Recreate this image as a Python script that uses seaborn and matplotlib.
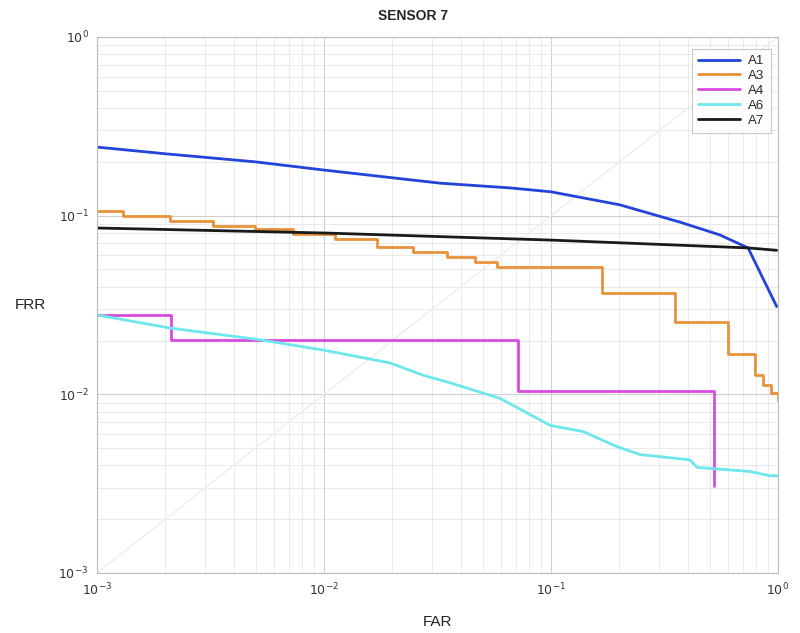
import numpy as np
import pandas as pd
import matplotlib
matplotlib.use("Agg")
import matplotlib.pyplot as plt
import seaborn as sns

# ---- data ----
a1_far = [0.001, 0.002, 0.005, 0.01, 0.0325, 0.066, 0.1, 0.201, 0.370, 0.555, 0.738, 0.987]
a1_frr = [0.242, 0.222, 0.200, 0.180, 0.152, 0.143, 0.136, 0.115, 0.092, 0.078, 0.066, 0.031]

a3_far = [0.001, 0.0013, 0.0021, 0.00324, 0.00497, 0.0073, 0.0112, 0.0171, 0.0247, 0.0348,
          0.0462, 0.0578, 0.168, 0.351, 0.603, 0.793, 0.859, 0.93, 1.0]
a3_frr = [0.106, 0.0996, 0.0938, 0.0879, 0.0843, 0.079, 0.0741, 0.0668, 0.0623, 0.0587,
          0.0551, 0.0516, 0.0369, 0.0254, 0.0168, 0.0128, 0.0113, 0.0102, 0.0093]

a4_far = [0.001, 0.00212, 0.0716, 0.522]
a4_frr = [0.0278, 0.0202, 0.01045, 0.00307]

a6_far = [0.001, 0.0021, 0.00522, 0.0099, 0.0195, 0.0273, 0.0359, 0.0596, 0.0991, 0.138,
          0.195, 0.247, 0.409, 0.440, 0.753, 0.922, 1.0]
a6_frr = [0.0278, 0.0235, 0.0202, 0.0177, 0.0150, 0.0128, 0.0116, 0.0095, 0.0067, 0.0062,
          0.0051, 0.0046, 0.0043, 0.0039, 0.0037, 0.0035, 0.0035]

a7_far = [0.001, 0.01, 0.1, 0.738, 0.987]
a7_frr = [0.0853, 0.080, 0.073, 0.066, 0.064]

series = [
    ("A1", a1_far, a1_frr, "#2244d8", None),
    ("A3", a3_far, a3_frr, "#e8923a", "steps-post"),
    ("A4", a4_far, a4_frr, "#d94be0", "steps-post"),
    ("A6", a6_far, a6_frr, "#6ee6ee", None),
    ("A7", a7_far, a7_frr, "#1a1a1a", None),
]

sns.set_style("white")
plt.rcParams['font.family'] = ['Liberation Sans', 'DejaVu Sans']

fig = plt.figure(figsize=(8, 6.33), dpi=100)
ax = fig.add_axes([97/800, 60/633, (778-97)/800, (573-37)/633])

# faint equal-error diagonal
diag = pd.DataFrame({"x": [0.001, 1.0], "y": [0.001, 1.0]})
sns.lineplot(data=diag, x="x", y="y", ax=ax, color="#ececec", lw=1.0,
             estimator=None, sort=False, legend=False)

for name, xs, ys, col, ds in series:
    df = pd.DataFrame({"FAR": xs, "FRR": ys})
    kw = {}
    if ds:
        kw["drawstyle"] = ds
    sns.lineplot(data=df, x="FAR", y="FRR", ax=ax, color=col, lw=2.0,
                 estimator=None, sort=False, label=name, **kw)

ax.set_xscale("log")
ax.set_yscale("log")
ax.set_xlim(1e-3, 1)
ax.set_ylim(1e-3, 1)
ax.set_xticks([1e-3, 1e-2, 1e-1, 1])
ax.set_yticks([1e-3, 1e-2, 1e-1, 1])
ax.set_xticklabels([r"$10^{-3}$", r"$10^{-2}$", r"$10^{-1}$", r"$10^{0}$"])
ax.set_yticklabels([r"$10^{-3}$", r"$10^{-2}$", r"$10^{-1}$", r"$10^{0}$"])
ax.tick_params(axis="both", which="both", length=0, labelsize=9, colors="#333333", pad=6)
ax.minorticks_on()
ax.grid(True, which="major", color="#d0d0d0", lw=0.8)
ax.grid(True, which="minor", color="#e6e6e6", lw=0.6)
for s in ax.spines.values():
    s.set_color("#bbbbbb")
    s.set_linewidth(0.8)

ax.set_xlabel("FAR", fontsize=11, color="#222222", labelpad=12)
ax.set_ylabel("FRR", fontsize=11, color="#222222", rotation=0, labelpad=20, va="center")
ax.set_title("SENSOR 7", fontsize=10, fontweight="bold", pad=12, x=0.464)

leg = ax.legend(loc="upper right", fontsize=9.5, frameon=True, fancybox=False,
                edgecolor="#bbbbbb", handlelength=3.2, borderpad=0.45, labelspacing=0.2,
                handletextpad=0.6, bbox_to_anchor=(0.999, 0.99))
leg.get_frame().set_linewidth(0.8)

fig.savefig("out.png", dpi=100)
